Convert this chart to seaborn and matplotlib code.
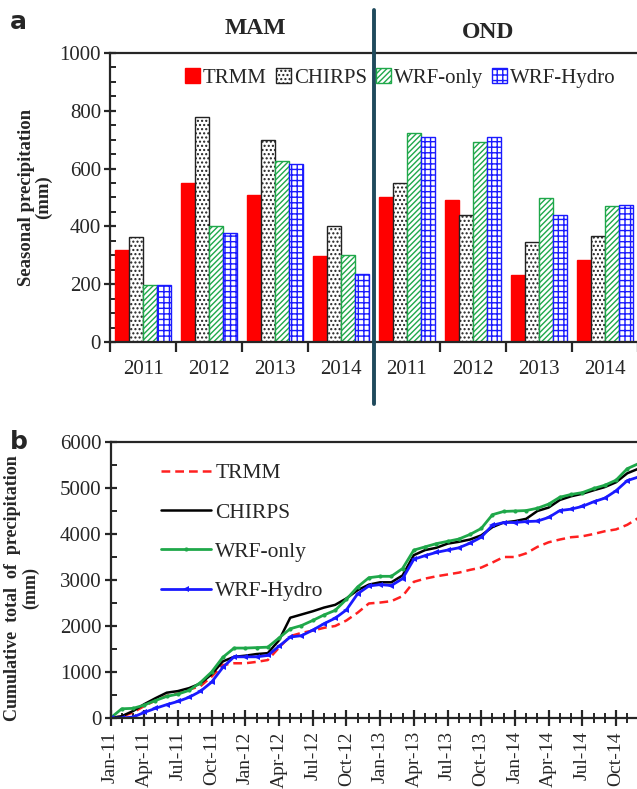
import matplotlib
matplotlib.use("Agg")
import numpy as np
import pandas as pd
import matplotlib.pyplot as plt
import seaborn as sns
from matplotlib.ticker import MultipleLocator, FixedLocator

# ---------------- data ----------------
sources = ["TRMM", "CHIRPS", "WRF-only", "WRF-Hydro"]
seasons = ["MAM", "OND"]
years = ["2011", "2012", "2013", "2014"]

# seasonal totals (mm): MAM 2011-2014 then OND 2011-2014
trmm_seasonal = [320, 550, 510, 298, 500, 492, 232, 285]
chirps_seasonal = [365, 780, 700, 400, 550, 440, 347, 368]
wrf_only_seasonal = [197, 403, 625, 302, 723, 692, 497, 470]
wrf_hydro_seasonal = [197, 378, 617, 237, 710, 710, 440, 474]

# cumulative monthly precipitation (mm), Jan-2011 .. Dec-2014
trmm_cum = [0, 30, 120, 260, 380, 480, 530, 620, 690, 900, 1150, 1190,
            1190, 1220, 1260, 1530, 1780, 1850, 1900, 1960, 2000, 2120, 2290, 2490,
            2510, 2540, 2650, 2960, 3030, 3080, 3120, 3160, 3220, 3270, 3380, 3500,
            3500, 3580, 3720, 3820, 3880, 3930, 3950, 4000, 4060, 4100, 4200, 4350]
chirps_cum = [0, 40, 150, 300, 430, 550, 585, 650, 750, 950, 1230, 1330,
              1355, 1390, 1410, 1690, 2180, 2250, 2320, 2400, 2460, 2600, 2780, 2900,
              2950, 2950, 3100, 3540, 3650, 3700, 3790, 3830, 3880, 3970, 4150, 4250,
              4280, 4330, 4500, 4575, 4740, 4820, 4875, 4950, 5020, 5125, 5320, 5420]
wrf_only_cum = [0, 200, 210, 280, 380, 470, 520, 600, 770, 1000, 1320, 1520,
                1520, 1530, 1540, 1740, 1940, 2010, 2120, 2240, 2340, 2580, 2850, 3050,
                3080, 3080, 3250, 3650, 3720, 3790, 3840, 3890, 3990, 4120, 4420, 4490,
                4500, 4510, 4560, 4650, 4800, 4860, 4900, 4990, 5060, 5170, 5420, 5530]
wrf_hydro_cum = [0, 0, 20, 120, 210, 290, 360, 450, 580, 780, 1100, 1330,
                 1330, 1330, 1360, 1560, 1760, 1790, 1910, 2050, 2170, 2350, 2700, 2870,
                 2900, 2880, 3030, 3450, 3530, 3600, 3650, 3700, 3800, 3930, 4190, 4250,
                 4250, 4270, 4280, 4360, 4510, 4540, 4600, 4700, 4780, 4940, 5160, 5240]

months = pd.date_range("2011-01-01", periods=48, freq="MS")

# ---------------- style ----------------
sns.set_style("ticks")
plt.rcParams["font.family"] = ["Liberation Serif", "DejaVu Serif"]
plt.rcParams["hatch.linewidth"] = 1.0
plt.rcParams["axes.linewidth"] = 1.6

W, H = 637, 789
fig = plt.figure(figsize=(W / 100, H / 100), dpi=100)

# ---------------- panel a: seasonal bars ----------------
periods = [f"{s} {y}" for s in seasons for y in years]
seasonal = {"TRMM": trmm_seasonal, "CHIRPS": chirps_seasonal,
            "WRF-only": wrf_only_seasonal, "WRF-Hydro": wrf_hydro_seasonal}
df_a = pd.DataFrame([(p, src, seasonal[src][i])
                     for src in sources for i, p in enumerate(periods)],
                    columns=["period", "source", "value"])

ax1 = fig.add_axes([110 / W, 1 - 342 / H, 528 / W, 289 / H])
sns.barplot(data=df_a, x="period", y="value", hue="source", order=periods,
            hue_order=sources, width=0.86, ax=ax1, legend=False,
            saturation=1, errorbar=None)

bar_styles = [
    dict(face="#ff0000", edge="#ff0000", hatch=None),
    dict(face="white", edge="#222222", hatch="...."),
    dict(face="white", edge="#1fa84a", hatch="//////"),
    dict(face="white", edge="#1a1aff", hatch="+++"),
]
for cont, st in zip(ax1.containers, bar_styles):
    for p in cont.patches:
        p.set_facecolor(st["face"])
        p.set_edgecolor(st["edge"])
        p.set_linewidth(1.0)
        if st["hatch"]:
            p.set_hatch(st["hatch"])

ax1.set_xlim(-0.5, 7.5)
ax1.set_ylim(0, 1000)
ax1.yaxis.set_major_locator(MultipleLocator(200))
ax1.yaxis.set_minor_locator(MultipleLocator(50))
ax1.set_xticks(range(8))
ax1.set_xticklabels(years * 2, fontsize=15)
ax1.xaxis.set_minor_locator(FixedLocator(np.arange(-0.5, 8, 1)))
ax1.tick_params(axis="x", which="major", length=0, pad=13)
ax1.tick_params(axis="x", which="minor", direction="out", length=7, width=1.6)
ax1.tick_params(axis="y", which="major", direction="inout", length=9, width=1.6,
                labelsize=15, pad=2)
ax1.tick_params(axis="y", which="minor", direction="in", length=4, width=1.4)
ax1.spines["right"].set_visible(False)
ax1.set_xlabel("")
ax1.set_ylabel("Seasonal precipitation\n(mm)", fontsize=13.5, fontweight="bold",
               linespacing=1.05, labelpad=5)
ax1.legend(ax1.containers, sources, loc="center", bbox_to_anchor=(0.55, 0.915),
           ncol=4, frameon=False, fontsize=15, handlelength=0.7, handleheight=0.75,
           handletextpad=0.15, columnspacing=0.45, borderaxespad=0)

# season divider and headers
ax1.plot([3.5, 3.5], [-215, 1150], color="#1f4a5c", lw=2.8, clip_on=False, zorder=5)
fig.text(255 / W, 1 - 28 / H, "MAM", fontsize=17, fontweight="bold",
         ha="center", va="center")
fig.text(488 / W, 1 - 33 / H, "OND", fontsize=17, fontweight="bold",
         ha="center", va="center")
fig.text(10 / W, 1 - 22 / H, "a", fontsize=18, fontweight="bold",
         family="DejaVu Sans", ha="left", va="center")

# ---------------- panel b: cumulative lines ----------------
ax2 = fig.add_axes([110.5 / W, 1 - 718 / H, 528 / W, 276 / H])
idx = np.arange(len(months))
sns.lineplot(x=idx, y=trmm_cum, ax=ax2, color="#ff2020", lw=1.8,
             linestyle=(0, (3.5, 2)), label="TRMM")
sns.lineplot(x=idx, y=chirps_cum, ax=ax2, color="black", lw=1.8, label="CHIRPS")
sns.lineplot(x=idx, y=wrf_only_cum, ax=ax2, color="#1fa84a", lw=2.0,
             marker="o", markersize=3, markeredgewidth=0, label="WRF-only")
sns.lineplot(x=idx, y=wrf_hydro_cum, ax=ax2, color="#1a1aff", lw=2.0,
             marker="<", markersize=4.5, markeredgewidth=0, label="WRF-Hydro")

ax2.set_xlim(0, 47)
ax2.set_ylim(0, 6000)
ax2.yaxis.set_major_locator(MultipleLocator(1000))
ax2.yaxis.set_minor_locator(MultipleLocator(500))
ax2.set_xticks(idx[::3])
ax2.set_xticklabels([m.strftime("%b-%y") for m in months[::3]], rotation=90,
                    fontsize=14)
ax2.xaxis.set_minor_locator(MultipleLocator(1))
ax2.tick_params(axis="x", which="major", direction="inout", length=11, width=1.6, pad=4)
ax2.tick_params(axis="x", which="minor", direction="inout", length=7, width=1.4)
ax2.tick_params(axis="y", which="major", direction="inout", length=9, width=1.6,
                labelsize=15, pad=2)
ax2.tick_params(axis="y", which="minor", direction="in", length=4, width=1.4)
ax2.spines["right"].set_visible(False)
ax2.set_xlabel("")
ax2.set_ylabel("Cumulative  total  of  precipitation\n(mm)", fontsize=13,
               fontweight="bold", linespacing=1.05, labelpad=4)
ax2.yaxis.set_label_coords(-0.135, 0.47)
ax2.legend(loc="upper left", bbox_to_anchor=(0.08, 0.955), frameon=False,
           fontsize=15.5, handlelength=2.3, handletextpad=0.2, labelspacing=0.9,
           borderaxespad=0)
fig.text(10 / W, 1 - 442 / H, "b", fontsize=18, fontweight="bold",
         family="DejaVu Sans", ha="left", va="center")

fig.savefig("out.png", dpi=100)
